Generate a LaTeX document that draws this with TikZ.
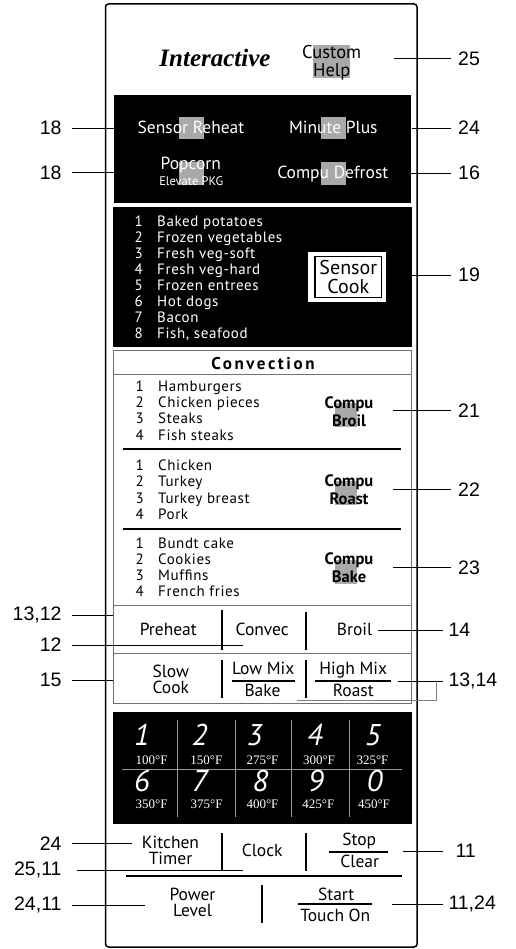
\documentclass[tikz,border=0pt]{standalone}
\usepackage{fontspec}
\setmainfont{Liberation Serif}
\newfontfamily\keyfont{PT Sans}
\newfontfamily\listfont[LetterSpace=4]{PT Sans}
\newfontfamily\headfont[LetterSpace=15]{PT Sans}
\newfontfamily\callfont{Liberation Sans}
\usetikzlibrary{positioning, calc}
\definecolor{ink}{HTML}{000000}
\definecolor{hotspot}{HTML}{A9A9A9}
\definecolor{rulegray}{HTML}{707070}
\definecolor{gridgray}{HTML}{9A9A9A}
\tikzset{
  keytxt/.style  ={font=\keyfont\fontsize{17.5}{16}\selectfont, align=center,
                   inner sep=0pt, anchor=base},
  keyrev/.style  ={keytxt, text=white},
  compu/.style   ={keytxt, font=\keyfont\bfseries\fontsize{16.5}{17.7}\selectfont},
  listitem/.style={font=\listfont\fontsize{15}{16}\selectfont, inner sep=0pt,
                   anchor=base west},
  listno/.style  ={listitem, anchor=base east},
  hotbox/.style  ={fill=hotspot, draw=none},
  panel/.style   ={fill=black, draw=none},
  callr/.style   ={font=\callfont\fontsize{19.5}{19.5}\selectfont, inner ysep=0pt,
                   inner xsep=7pt, anchor=west},
  calll/.style   ={callr, inner xsep=10pt, anchor=east},
  lead/.style    ={draw=ink, line width=0.8pt},
  divider/.style ={draw=ink, line width=1.8pt},
  boxline/.style ={draw=rulegray, line width=0.9pt},
  keygrid/.style ={draw=gridgray, line width=0.6pt},
  digit/.style   ={font=\keyfont\itshape\fontsize{30}{30}\selectfont, text=white,
                   inner sep=0pt, anchor=base},
  tempf/.style   ={font=\fontsize{13}{13}\selectfont, text=white, inner sep=0pt,
                   anchor=base}
}

\begin{document}
\begin{tikzpicture}[x=1pt, y=-1pt]
  \useasboundingbox (0,0) rectangle (515,949);

  % Outer frame
  \draw[line width=1.5pt, rounded corners=3pt] (105.5,4) rectangle (417,947);

  % Header
  \node[font=\bfseries\itshape\fontsize{25}{25}\selectfont, inner sep=0pt, anchor=base]
       (interactive) at (215,66.7) {Interactive};
  \fill[hotbox] (313.3,45) rectangle (350,78.3);
  \node[keytxt, font=\keyfont\fontsize{18.5}{18}\selectfont] (customhelp) at (331.7,76.5) {Custom\\Help};

  % Black panel 1
  \fill[panel] (114,95) rectangle (411,203.3);
  \fill[hotbox] (179,116.7) rectangle (204,139.3);
  \fill[hotbox] (320.7,116.7) rectangle (346,139.3);
  \fill[hotbox] (179,161.7) rectangle (204,185);
  \fill[hotbox] (320.7,161.7) rectangle (346,185);
  \node[keyrev] (reheat) at (191,133.3) {Sensor Reheat};
  \node[keyrev] (minute) at (333.3,133.3) {Minute Plus};
  \node[keyrev] (popcorn) at (190.8,170) {Popcorn};
  \node[keyrev, font=\keyfont\fontsize{12.5}{12.5}\selectfont] (elevate) at (191.3,186) {Elevate PKG};
  \node[keyrev] (defrost) at (332.8,178.3) {Compu Defrost};

  % Black panel 2 - sensor cook
  \fill[panel] (113.3,206.7) rectangle (411.7,346.7);
  \foreach \t [count=\i] in {Baked potatoes, Frozen vegetables, Fresh veg-soft,
      Fresh veg-hard, Frozen entrees, Hot dogs, Bacon, {Fish, seafood}} {
    \node[listno, text=white] (sn\i) at (143, 210.5+16*\i) {\i};
    \node[listitem, text=white] (sc\i) at (157, 210.5+16*\i) {\t};
  }
  \node[fill=white, minimum width=77.7pt, minimum height=50pt, inner sep=0pt]
       (scouter) at (347.2,276.7) {};
  \node[draw=black, line width=1.2pt, minimum width=66.7pt, minimum height=41pt,
        inner sep=0pt, align=center, font=\keyfont\fontsize{20}{19.3}\selectfont]
       (sensorcook) at (348.3,277.2) {Sensor\\Cook};

  % Convection
  \draw[boxline] (113.3,350) rectangle (411.7,703.3);
  \draw[boxline] (113.3,374) -- (411.7,374);
  \draw[boxline] (113.3,605) -- (411.7,605);
  \draw[boxline] (113.3,653.3) -- (411.7,653.3);
  \node[font=\headfont\bfseries\fontsize{17}{17}\selectfont, inner sep=0pt, anchor=base]
       (convection) at (263,369.3) {Convection};
  \foreach \t [count=\i] in {Hamburgers, Chicken pieces, Steaks, Fish steaks} {
    \node[listno] (bn\i) at (144, 375.6+16.1*\i) {\i};
    \node[listitem] (bi\i) at (158, 375.6+16.1*\i) {\t};
  }
  \foreach \t [count=\i] in {Chicken, Turkey, Turkey breast, Pork} {
    \node[listno] (rn\i) at (144, 454.5+16.2*\i) {\i};
    \node[listitem] (ri\i) at (158, 454.5+16.2*\i) {\t};
  }
  \foreach \t [count=\i] in {Bundt cake, Cookies, Muffins, French fries} {
    \node[listno] (kn\i) at (144, 532.2+16.1*\i) {\i};
    \node[listitem] (ki\i) at (158, 532.2+16.1*\i) {\t};
  }
  \draw[divider] (122.7,448.7) -- (401,448.7);
  \draw[divider] (122.7,529) -- (401,529);
  \fill[hotbox] (335,403) rectangle (356.7,427);
  \fill[hotbox] (335,481) rectangle (356.7,505);
  \fill[hotbox] (335,560) rectangle (356.7,584);
  \node[compu] (cbroil) at (349,426) {Compu\\Broil};
  \node[compu] (croast) at (349,504.3) {Compu\\Roast};
  \node[compu] (cbake) at (349,582.3) {Compu\\Bake};

  % Mode keys
  \node[keytxt] (preheat) at (168.3,635) {Preheat};
  \node[keytxt] (convec) at (262.2,635) {Convec};
  \node[keytxt] (broil) at (354.5,635) {Broil};
  \draw[divider] (221.7,610) -- (221.7,650);
  \draw[divider] (306,611.7) -- (306,650);
  \node[keytxt] (slowcook) at (170.8,693.3) {Slow\\Cook};
  \node[keytxt] (lowmix) at (263.3,674) {Low Mix};
  \node[keytxt] (bake) at (262.5,696) {Bake};
  \node[keytxt] (highmix) at (353.3,674) {High Mix};
  \node[keytxt] (roast) at (353.3,696) {Roast};
  \draw[divider] (231.7,681) -- (295,681);
  \draw[divider] (315,681) -- (390.7,681);
  \draw[divider] (221.7,660) -- (221.7,698.3);
  \draw[divider] (306,660) -- (306,698.3);

  % Number pad
  \fill[panel] (113.3,711.7) rectangle (411.7,824);
  \foreach \x in {177.3,235,291.7,349.3}
    \draw[keygrid] (\x,720) -- (\x,816.7);
  \draw[keygrid] (122,769) -- (401.7,769);
  \foreach \d/\t/\x/\u in {1/100/142/151.7, 2/150/199.7/206.3, 3/275/254.7/262.5,
                           4/300/315/319, 5/325/373/372.5} {
    \node[digit] (d\d) at (\x,745) {\d};
    \node[tempf] (t\d) at (\u,764) {\t°F};
  }
  \foreach \d/\t/\x/\u in {6/350/142/151.7, 7/375/199.7/206.7, 8/400/260.5/262.5,
                           9/425/316/318.3, 0/450/374.7/374} {
    \node[digit] (d\d) at (\x,791.5) {\d};
    \node[tempf] (t\d) at (\u,808.5) {\t°F};
  }

  % Bottom keys
  \node[keytxt] (kitchen) at (170.5,864) {Kitchen\\Timer};
  \node[keytxt] (clock) at (262.2,856.7) {Clock};
  \node[keytxt] (stop) at (359.2,845) {Stop};
  \node[keytxt] (clear) at (359.8,867.3) {Clear};
  \draw[divider] (329.3,851.7) -- (387.7,851.7);
  \draw[divider] (221.7,832.7) -- (221.7,871);
  \draw[divider] (306,832.7) -- (306,871);
  \draw[divider] (126,876) -- (402.3,876);
  \node[keytxt] (power) at (192.5,916.7) {Power\\Level};
  \draw[divider] (262.3,885) -- (262.3,923.3);
  \node[keytxt] (start) at (336.2,900) {Start};
  \node[keytxt] (touchon) at (335.3,921.7) {Touch On};
  \draw[divider] (298.3,904.3) -- (371.7,904.3);

  % Callouts right
  \coordinate (p25) at (394,58.3);
  \coordinate (p24) at (412,128);
  \coordinate (p16) at (408,173);
  \coordinate (p19) at (386,275);
  \coordinate (p21) at (393.3,410.7);
  \coordinate (p22) at (393.3,489.3);
  \coordinate (p23) at (393.3,567.7);
  \coordinate (p14) at (378.3,630);
  \coordinate (p1314) at (398.3,681);
  \coordinate (q1314) at (436.7,681);
  \coordinate (b1314) at (296.7,700);
  \coordinate (p11) at (403.3,851);
  \coordinate (p1124) at (391.7,904.3);
  \node[callr] (n25) at (451,58.3) {25};
  \node[callr] (n24) at (451,128) {24};
  \node[callr] (n16) at (451,173) {16};
  \node[callr] (n19) at (451,275) {19};
  \node[callr] (n21) at (451,410.7) {21};
  \node[callr] (n22) at (451,489.3) {22};
  \node[callr] (n23) at (451,567.7) {23};
  \node[callr, inner xsep=5pt] (n14) at (443.3,630) {14};
  \node[callr, inner xsep=5pt] (n1314) at (443.3,681) {13,14};
  \node[callr, inner xsep=12pt] (n11) at (443.3,851) {11};
  \node[callr, inner xsep=5pt] (n1124) at (443.3,904.3) {11,24};
  \foreach \c in {25,24,16,19,21,22,23,14,1314,11,1124}
    \draw[lead] (p\c) -- (n\c.west);
  \draw[lead, draw=gray] (b1314) -| (q1314);

  % Callouts left
  \coordinate (p18a) at (115,128);
  \coordinate (p18b) at (115,172.7);
  \coordinate (p1312) at (113.3,615);
  \coordinate (p12) at (243.3,645);
  \coordinate (p15) at (113.3,680);
  \coordinate (p24b) at (131.7,843.3);
  \coordinate (p2511) at (243.3,870);
  \coordinate (p2411) at (145,905);
  \node[calll] (n18a) at (71.7,128) {18};
  \node[calll] (n18b) at (71.7,172.7) {18};
  \node[calll] (n1312) at (71.7,615) {13,12};
  \node[calll] (n12) at (71.7,645) {12};
  \node[calll] (n15) at (71.7,680) {15};
  \node[calll] (n24b) at (71.7,843.3) {24};
  \node[calll, inner xsep=15pt] (n2511) at (76.7,870) {25,11};
  \node[calll] (n2411) at (71.7,905) {24,11};
  \foreach \c in {18a,18b,1312,12,15,24b,2511,2411}
    \draw[lead] (n\c.east) -- (p\c);
\end{tikzpicture}
\end{document}
